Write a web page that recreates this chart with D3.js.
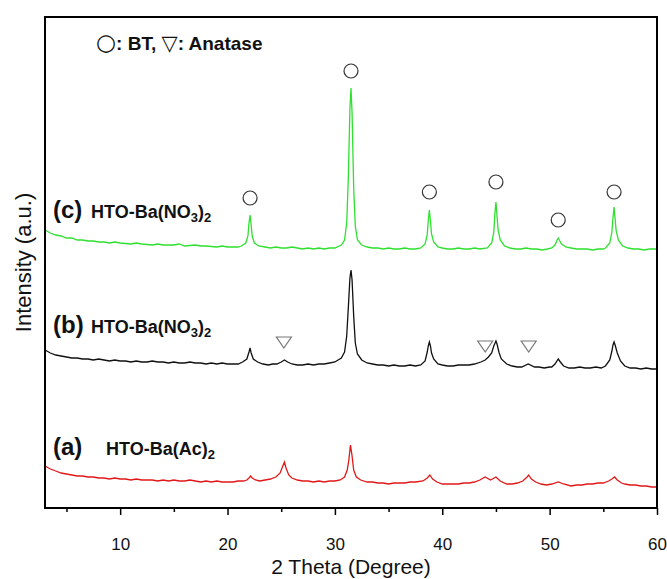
<!DOCTYPE html>
<html>
<head>
<meta charset="utf-8">
<script src="https://cdn.jsdelivr.net/npm/d3@7"></script>
<style>
  body { margin: 0; background: #fff; }
  text { font-family: Arial, "Liberation Sans", sans-serif; }
</style>
</head>
<body>
<script>
var w = 667;
var h = 579;

// 2 theta (degree), intensity (a.u.)
var patternA = [
  [3,42],[3.5,39],[4,37],[4.5,35],[5,34],[5.5,33],[6,32],[6.5,32],[7,31],[7.5,31],[8,30],[8.5,30],[9,29],[9.5,30],[10,29],
  [10.5,29],[11,28],[11.5,29],[12,28],[12.5,28],[13,28],[13.5,27],[14,28],[14.5,27],[15,28],[15.5,27],[16,27],[16.5,28],
  [17,27],[17.5,26],[18,27],[18.5,26],[19,27],[19.5,26],[20,26],[20.5,26],[21,27],[21.5,27],
  [21.8,28],[22.0,30],[22.15,32],[22.3,30],[22.6,28],
  [23,27],[23.5,28],[24,29],[24.5,31],[24.9,35],[25.15,42],[25.3,46],[25.45,40],[25.7,33],[26,30],
  [26.5,28],[27,27],[27.5,27],[28,26],[28.5,27],[29,26],[29.5,27],[30,27],[30.5,28],
  [30.9,31],[31.15,38],[31.3,48],[31.45,63],[31.6,52],[31.75,38],[32.0,31],[32.4,28],
  [33,26],[33.5,26],[34,25],[34.5,25],[35,24],[35.5,25],[36,25],[36.5,25],[37,26],[37.5,26],
  [38.2,27],[38.6,30],[38.85,33],[39.1,29],[39.5,26],
  [40,24],[40.5,24],[41,24],[41.5,24],[42,25],[42.5,25],[43,26],[43.5,28],
  [44.0,31],[44.5,28],[45.0,31],[45.4,27],[46,24],
  [46.5,24],[47,25],[47.5,27],[47.9,31],[48.05,33],[48.3,29],[48.7,26],
  [49.2,24],[49.7,23],[50.2,24],[50.8,26],[51.3,24],
  [52,22],[52.5,23],[53,23],[53.5,24],[54,24],[54.5,25],[55,25],[55.5,27],
  [55.8,29],[56.05,31],[56.3,28],[56.7,25],
  [57,24],[57.5,23],[58,23],[58.5,22],[59,22],[59.5,21],[60,21]
];

var patternB = [
  [3,158],[3.5,155],[4,153],[4.5,152],[5,151],[5.5,150],[6,150],[6.5,149],[7,149],[7.5,148],[8,149],[8.5,148],[9,147],
  [9.5,148],[10,147],[10.5,147],[11,146],[11.5,147],[12,146],[12.5,146],[13,147],[13.5,146],[14,146],[14.5,145],[15,146],
  [15.5,145],[16,145],[16.5,146],[17,145],[17.5,145],[18,144],[18.5,145],[19,144],[19.5,145],[20,144],[20.5,144],[21,144],
  [21.4,146],[21.8,149],[22.0,156],[22.1,160],[22.2,155],[22.4,149],[22.8,146],
  [23.3,144],[23.8,143],[24.2,144],
  [24.6,144],[25.0,146],[25.3,148],[25.6,146],[26.0,144],
  [26.5,143],[27,143],[27.5,144],[28,143],[28.5,144],[29,144],[29.5,145],
  [30.0,146],[30.6,150],[30.9,156],[31.1,172],[31.25,200],[31.4,230],[31.5,238],[31.6,228],[31.75,192],[31.9,165],
  [32.1,154],[32.5,148],[33.0,145],
  [33.5,144],[34,143],[34.5,143],[35,142],[35.5,143],[36,142],[36.5,142],[37,143],[37.5,142],
  [38.0,143],[38.4,147],[38.6,156],[38.7,162],[38.8,166],[38.9,162],[39.0,155],[39.2,149],[39.6,144],
  [40,143],[40.5,142],[41,142],[41.5,143],[42,143],[42.5,143],
  [43.0,144],[43.6,146],[44.0,148],[44.3,151],[44.6,155],[44.8,162],[45.0,167],[45.1,164],[45.3,155],[45.5,149],[46.0,144],
  [46.5,142],[47,141],
  [47.4,141],[48.0,144],[48.6,141],
  [49,141],[49.5,140],[50,141],
  [50.2,141],[50.5,144],[50.8,149],[51.0,146],[51.3,142],[51.8,140],
  [52.3,140],[52.8,141],[53.3,140],[53.8,140],[54.3,141],[54.8,140],
  [55.2,142],[55.6,148],[55.8,157],[55.9,163],[56.0,166],[56.1,163],[56.3,155],[56.6,147],[57.0,142],
  [57.5,140],[58,140],[58.5,139],[59,140],[59.5,139],[60,139]
];

var patternC = [
  [3,278],[3.5,275],[4,273],[4.5,272],[5,270],[5.5,270],[6,268],[6.5,268],[7,267],[7.5,267],[8,266],[8.5,266],[9,265],
  [9.5,266],[10,265],[11,264],[11.5,265],[12,264],[13,263],[13.5,264],[14,263],[15,263],[15.5,264],[16,262],[17,263],
  [17.5,262],[18,262],[19,261],[19.5,262],[20,261],[20.5,261],[21,261],
  [21.3,262],[21.7,265],[21.9,272],[22.0,285],[22.1,293],[22.2,283],[22.3,272],[22.5,265],[22.9,262],
  [23.5,261],[24,260],[24.5,261],[25,260],[25.5,260],[26,261],[26.5,260],[27,259],[27.5,260],[28,259],[28.5,260],
  [29,259],[29.5,260],[30,260],
  [30.6,263],[30.9,268],[31.1,285],[31.25,330],[31.4,400],[31.5,420],[31.6,395],[31.75,320],[31.9,282],[32.1,268],
  [32.5,263],[33,261],
  [33.5,260],[34,260],[34.5,259],[35,260],[35.5,259],[36,259],[36.5,260],[37,259],[37.5,259],
  [38.0,260],[38.4,264],[38.6,273],[38.7,288],[38.8,298],[38.9,287],[39.0,274],[39.2,266],[39.6,261],
  [40,260],[40.5,259],[41,259],[41.5,260],[42,259],[42.5,259],[43,260],[43.5,259],
  [44.2,260],[44.6,265],[44.8,276],[44.9,294],[45.0,306],[45.1,292],[45.2,278],[45.4,268],[45.8,262],
  [46.3,260],[46.8,259],[47.3,259],[47.8,260],[48.3,259],[48.8,259],[49.3,258],[49.8,259],
  [50.2,260],[50.5,263],[50.7,268],[50.8,270],[50.9,268],[51.1,264],[51.5,261],
  [52,260],[52.5,259],[53,259],[53.5,259],[54,258],[54.5,259],[55.0,259],
  [55.2,260],[55.6,265],[55.8,276],[55.9,290],[56.0,301],[56.1,289],[56.2,277],[56.4,268],[56.8,262],
  [57.3,260],[57.8,259],[58.3,259],[58.8,258],[59.3,259],[60,259]
];

// peak markers: BT circles, anatase triangles
var btMarks = [[22.1,310],[31.5,437],[38.8,316],[45.0,326],[50.8,288],[56.0,316]];
var anataseMarks = [[25.25,166],[44.0,162],[48.05,162]];

var majorTicks = [10, 20, 30, 40, 50, 60];
var minorTicks = [5, 15, 25, 35, 45, 55];

var padL = 45, padR = 657, padT = 17, padB = 508;

var svg = d3.select("body")
    .append("svg")
    .attr("width", w)
    .attr("height", h);

var x = d3.scaleLinear().domain([3, 60]).range([padL, padR]);
var y = d3.scaleLinear().domain([0, 491]).range([padB, padT]);

var line = d3.line()
    .x(function (d) { return x(d[0]); })
    .y(function (d) { return y(d[1]); });

//----patterns-----
svg.append("path").datum(patternA)
    .attr("d", line)
    .attr("fill", "none")
    .attr("stroke", "#e01818")
    .attr("stroke-width", 1.3);

svg.append("path").datum(patternB)
    .attr("d", line)
    .attr("fill", "none")
    .attr("stroke", "#111")
    .attr("stroke-width", 1.3);

svg.append("path").datum(patternC)
    .attr("d", line)
    .attr("fill", "none")
    .attr("stroke", "#2fe02f")
    .attr("stroke-width", 1.3);

//----markers-----
svg.selectAll("circle.bt")
    .data(btMarks)
    .enter().append("circle")
    .attr("class", "bt")
    .attr("cx", function (d) { return x(d[0]); })
    .attr("cy", function (d) { return y(d[1]); })
    .attr("r", 7)
    .attr("fill", "none")
    .attr("stroke", "#333")
    .attr("stroke-width", 1.2);

svg.selectAll("path.anatase")
    .data(anataseMarks)
    .enter().append("path")
    .attr("class", "anatase")
    .attr("d", function (d) {
        var cx = x(d[0]), cy = y(d[1]);
        return "M" + (cx - 7.5) + "," + (cy - 5) + "L" + (cx + 7.5) + "," + (cy - 5) + "L" + cx + "," + (cy + 6) + "Z";
    })
    .attr("fill", "none")
    .attr("stroke", "#777")
    .attr("stroke-width", 1.2);

//----axes-----
var xAxis = d3.axisBottom(x)
    .tickValues(majorTicks)
    .tickSize(7)
    .tickPadding(23)
    .tickFormat(d3.format("d"));

var gx = svg.append("g")
    .attr("transform", "translate(0," + padB + ")")
    .call(xAxis);
gx.select(".domain").remove();
gx.selectAll("line").attr("stroke", "#000").attr("stroke-width", 1.5);
gx.selectAll("text")
    .attr("font-size", 17)
    .attr("fill", "#111")
    .style("font-family", "Arial, 'Liberation Sans', sans-serif");

svg.append("g")
    .attr("transform", "translate(0," + padB + ")")
    .call(d3.axisBottom(x).tickValues(minorTicks).tickSize(4).tickFormat(""))
    .call(function (g) { g.select(".domain").remove(); })
    .selectAll("line").attr("stroke", "#000").attr("stroke-width", 1.5);

// frame
svg.append("rect")
    .attr("x", padL)
    .attr("y", padT)
    .attr("width", padR - padL)
    .attr("height", padB - padT)
    .attr("fill", "none")
    .attr("stroke", "#000")
    .attr("stroke-width", 2);

svg.append("text")
    .text("2 Theta (Degree)")
    .attr("x", (padL + padR) / 2)
    .attr("y", 574)
    .attr("text-anchor", "middle")
    .attr("font-size", 21)
    .attr("fill", "#111");

svg.append("text")
    .text("Intensity (a.u.)")
    .attr("transform", "translate(31," + ((padT + padB) / 2) + ") rotate(-90)")
    .attr("text-anchor", "middle")
    .attr("font-size", 22)
    .attr("fill", "#111");

//----legend-----
var legend = svg.append("text")
    .attr("x", 96)
    .attr("y", 50)
    .attr("font-size", 19)
    .attr("fill", "#111");
legend.append("tspan").text("\u25CB").attr("font-weight", "normal").attr("font-size", 23)
    .style("font-family", "'DejaVu Sans', sans-serif");
legend.append("tspan").text(": BT, ").attr("font-weight", "bold");
legend.append("tspan").text("\u25BD").attr("font-weight", "normal").attr("font-size", 21)
    .style("font-family", "'DejaVu Sans', sans-serif");
legend.append("tspan").text(": Anatase").attr("font-weight", "bold");

//----sample labels-----
function sampleLabel(tag, tagX, nameX, baseY, parts) {
    svg.append("text")
        .text(tag)
        .attr("x", tagX)
        .attr("y", baseY)
        .attr("font-size", 24)
        .attr("font-weight", "bold")
        .attr("fill", "#111");
    var t = svg.append("text")
        .attr("x", nameX)
        .attr("y", baseY)
        .attr("font-size", 18)
        .attr("font-weight", "bold")
        .attr("fill", "#111");
    parts.forEach(function (p) {
        if (p.sub) {
            t.append("tspan").text(p.s).attr("font-size", 13).attr("dy", 4);
        } else {
            t.append("tspan").text(p.s).attr("dy", p.after ? -4 : 0);
        }
    });
}

sampleLabel("(c)", 53, 91, 218, [{s: "HTO-Ba(NO"}, {s: "3", sub: true}, {s: ")", after: true}, {s: "2", sub: true}]);
sampleLabel("(b)", 53, 91, 333, [{s: "HTO-Ba(NO"}, {s: "3", sub: true}, {s: ")", after: true}, {s: "2", sub: true}]);
sampleLabel("(a)", 53, 106, 455, [{s: "HTO-Ba(Ac)"}, {s: "2", sub: true}]);
</script>
</body>
</html>
